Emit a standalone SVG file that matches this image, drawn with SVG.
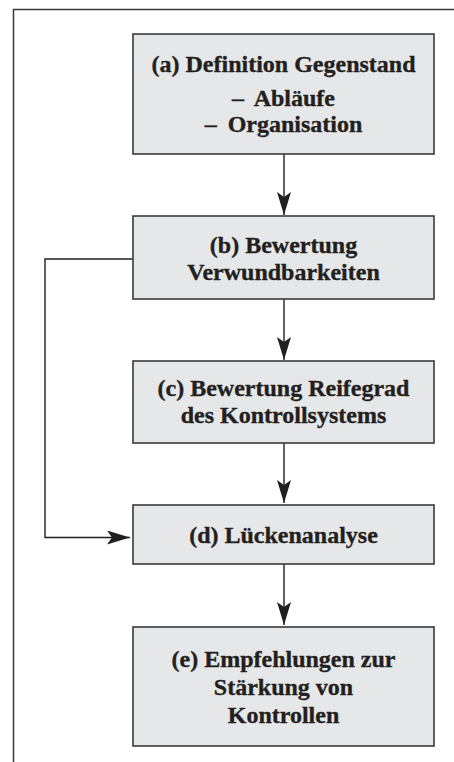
<svg xmlns="http://www.w3.org/2000/svg" width="454" height="762" viewBox="0 0 454 762">
<style>
.box{fill:#e6e7e8;stroke:#3a3a3a;stroke-width:1.6}
.t{font-family:"Liberation Serif","Times New Roman",serif;font-weight:bold;font-size:24px;fill:#231f20;stroke:#231f20;stroke-width:0.35;text-anchor:middle}
.c{fill:none;stroke:#231f20;stroke-width:1.4}
</style>
<defs>
<marker id="ah" viewBox="0 0 23 14" refX="23" refY="7" markerWidth="23" markerHeight="14" markerUnits="userSpaceOnUse" orient="auto">
<path d="M0,0 L23,7 L0,14 L5,7 Z" fill="#231f20"/>
</marker>
</defs>
<rect x="13.5" y="9.5" width="470" height="780" fill="#fff" stroke="#3a3a3a" stroke-width="1.5"/>
<g id="connectors">
<path class="c" d="M284,154 V215" marker-end="url(#ah)"/>
<path class="c" d="M284,299 V360" marker-end="url(#ah)"/>
<path class="c" d="M284,443 V503" marker-end="url(#ah)"/>
<path class="c" d="M284,564 V625" marker-end="url(#ah)"/>
<path class="c" d="M133,259 H45 V537.5 H130" marker-end="url(#ah)"/>
</g>
<g id="a">
<rect class="box" x="133" y="34" width="301" height="120"/>
<text class="t" x="283.5" y="72">(a) Definition Gegenstand</text>
<text class="t" x="283.5" y="106" word-spacing="5">– Abläufe</text>
<text class="t" x="283.5" y="132" word-spacing="5">– Organisation</text>
</g>
<g id="b">
<rect class="box" x="133" y="216" width="301" height="83"/>
<text class="t" x="283.5" y="253">(b) Bewertung</text>
<text class="t" x="283.5" y="280">Verwundbarkeiten</text>
</g>
<g id="c">
<rect class="box" x="133" y="361" width="301" height="82"/>
<text class="t" x="283.5" y="396">(c) Bewertung Reifegrad</text>
<text class="t" x="283.5" y="423">des Kontrollsystems</text>
</g>
<g id="d">
<rect class="box" x="133" y="505" width="301" height="59"/>
<text class="t" x="283.5" y="543">(d) Lückenanalyse</text>
</g>
<g id="e">
<rect class="box" x="133" y="627" width="301" height="119"/>
<text class="t" x="283.5" y="667">(e) Empfehlungen zur</text>
<text class="t" x="283.5" y="695">Stärkung von</text>
<text class="t" x="283.5" y="723">Kontrollen</text>
</g>
</svg>
